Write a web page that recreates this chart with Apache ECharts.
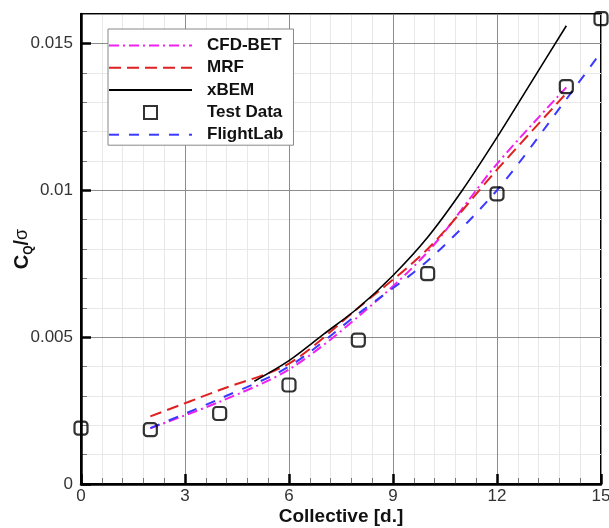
<!DOCTYPE html>
<html>
<head>
<meta charset="utf-8">
<script src="https://cdn.jsdelivr.net/npm/echarts@6/dist/echarts.min.js"></script>
<style>
  html, body { margin: 0; padding: 0; background: #fff; }
  #chart { width: 609px; height: 528px; }
</style>
</head>
<body>
<div id="chart"></div>
<script>
// collective angle [deg] vs Cq/sigma
const cfdX = [2, 4, 6, 8, 10, 12, 14];
const cfdY = [0.0019, 0.0028, 0.0039, 0.0057, 0.0079, 0.0109, 0.0135];

const mrfX = [2, 4, 6, 8, 10, 12, 14];
const mrfY = [0.0023, 0.0032, 0.0041, 0.0060, 0.0080, 0.0107, 0.0133];

const xbemX = [5, 6, 7, 8, 9, 10, 11, 12, 13, 14];
const xbemY = [0.0035, 0.0042, 0.0051, 0.0060, 0.0071, 0.0084, 0.0100, 0.0118, 0.0137, 0.0156];

const testX = [0, 2, 4, 6, 8, 10, 12, 14, 15];
const testY = [0.0019, 0.00185, 0.0024, 0.00337, 0.0049, 0.00716, 0.00988, 0.01353, 0.01584];

const flX = [2, 4, 6, 8, 10, 12, 14, 15];
const flY = [0.0019, 0.0029, 0.0040, 0.0058, 0.0076, 0.0100, 0.0131, 0.0147];

const legendNames = ["CFD-BET", "MRF", "xBEM", "Test Data", "FlightLab"];

const pairs = (xs, ys) => xs.map((x, i) => [x, ys[i]]);
const font = "'Liberation Sans', Arial, sans-serif";

// line entries: hide the centre dot, test data: square icon
const legendData = legendNames.map((n) =>
  n === "Test Data"
    ? { name: n, icon: "path://M0,0 L10,0 L10,10 L0,10 Z" }
    : { name: n, itemStyle: { opacity: 0 } }
);

const chart = echarts.init(document.getElementById("chart"));
chart.setOption({
  animation: false,
  backgroundColor: "#fff",
  grid: {
    left: 81, right: 8, top: 14, bottom: 44,
    outerBoundsMode: "none",
    show: true, borderColor: "#000", borderWidth: 2
  },
  legend: {
    data: legendData,
    orient: "vertical",
    left: 108, top: 29,
    padding: [8, 10, 2, 0],
    itemWidth: 83, itemHeight: 13, itemGap: 5.3,
    backgroundColor: "#fff",
    borderColor: "#888", borderWidth: 1,
    textStyle: { fontFamily: font, fontWeight: "bold", fontSize: 17, color: "#111", padding: [0, 0, 0, 10] }
  },
  xAxis: [
    {
      type: "value", min: 0, max: 15, interval: 3, position: "bottom", z: 3,
      name: "Collective [d.]", nameLocation: "middle", nameGap: 23, nameMoveOverlap: false,
      nameTextStyle: { fontFamily: font, fontWeight: "bold", fontSize: 19, color: "#111" },
      axisLine: { onZero: false, lineStyle: { color: "#000", width: 2.5 } },
      axisTick: { inside: true, length: 10, lineStyle: { color: "#000", width: 2.5 } },
      axisLabel: { margin: 4, fontFamily: font, fontSize: 17, color: "#333" },
      splitLine: { lineStyle: { color: "#8c8c8c", width: 1 } }
    },
    {
      type: "value", min: 0, max: 15, interval: 0.6, position: "bottom", z: 1,
      axisLine: { show: false, onZero: false },
      axisTick: { inside: true, length: 6, lineStyle: { color: "#777", width: 1 } },
      axisLabel: { show: false },
      splitLine: { lineStyle: { color: "#e8e8e8", width: 1 } }
    }
  ],
  yAxis: [
    {
      type: "value", min: 0, max: 0.016, interval: 0.005, position: "left", z: 3,
      name: "{c|C}{q|Q}{c|/}{s|σ}", nameLocation: "middle", nameGap: 46, nameRotate: 90,
      nameMoveOverlap: false,
      nameTextStyle: {
        rich: {
          c: { fontFamily: font, fontWeight: "bold", fontSize: 20, color: "#111", lineHeight: 26 },
          q: { fontFamily: font, fontWeight: "bold", fontSize: 12, color: "#111", lineHeight: 16, verticalAlign: "bottom" },
          s: { fontFamily: font, fontSize: 18, color: "#111", lineHeight: 26 }
        }
      },
      axisLine: { onZero: false, lineStyle: { color: "#000", width: 2.5 } },
      axisTick: { inside: true, length: 10, lineStyle: { color: "#000", width: 2.5 } },
      axisLabel: { margin: 8, fontFamily: font, fontSize: 17, color: "#333", showMaxLabel: false },
      splitLine: { lineStyle: { color: "#8c8c8c", width: 1 } }
    },
    {
      type: "value", min: 0, max: 0.016, interval: 0.001, position: "left", z: 1,
      axisLine: { show: false, onZero: false },
      axisTick: { inside: true, length: 6, lineStyle: { color: "#777", width: 1 } },
      axisLabel: { show: false },
      splitLine: { lineStyle: { color: "#e8e8e8", width: 1 } }
    }
  ],
  series: [
    {
      name: "CFD-BET", type: "line", symbol: "none", smooth: 0.3, z: 4,
      lineStyle: { color: "#f020f0", width: 2, type: [10, 4, 2, 4] },
      itemStyle: { color: "#f020f0" },
      data: pairs(cfdX, cfdY)
    },
    {
      name: "MRF", type: "line", symbol: "none", smooth: 0.3, z: 4,
      lineStyle: { color: "#e02020", width: 2, type: [12, 6] },
      itemStyle: { color: "#e02020" },
      data: pairs(mrfX, mrfY)
    },
    {
      name: "xBEM", type: "line", symbol: "none", smooth: 0.3, z: 4,
      lineStyle: { color: "#000", width: 1.6 },
      itemStyle: { color: "#000" },
      data: pairs(xbemX, xbemY)
    },
    {
      name: "Test Data", type: "scatter", symbol: "roundRect", symbolSize: 13, z: 5,
      itemStyle: { color: "rgba(255,255,255,0)", borderColor: "#000", borderWidth: 2.2 },
      data: pairs(testX, testY)
    },
    {
      name: "FlightLab", type: "line", symbol: "none", smooth: 0.3, z: 4,
      lineStyle: { color: "#3a3aff", width: 2, type: [10, 10] },
      itemStyle: { color: "#3a3aff" },
      data: pairs(flX, flY)
    }
  ]
});
</script>
</body>
</html>
